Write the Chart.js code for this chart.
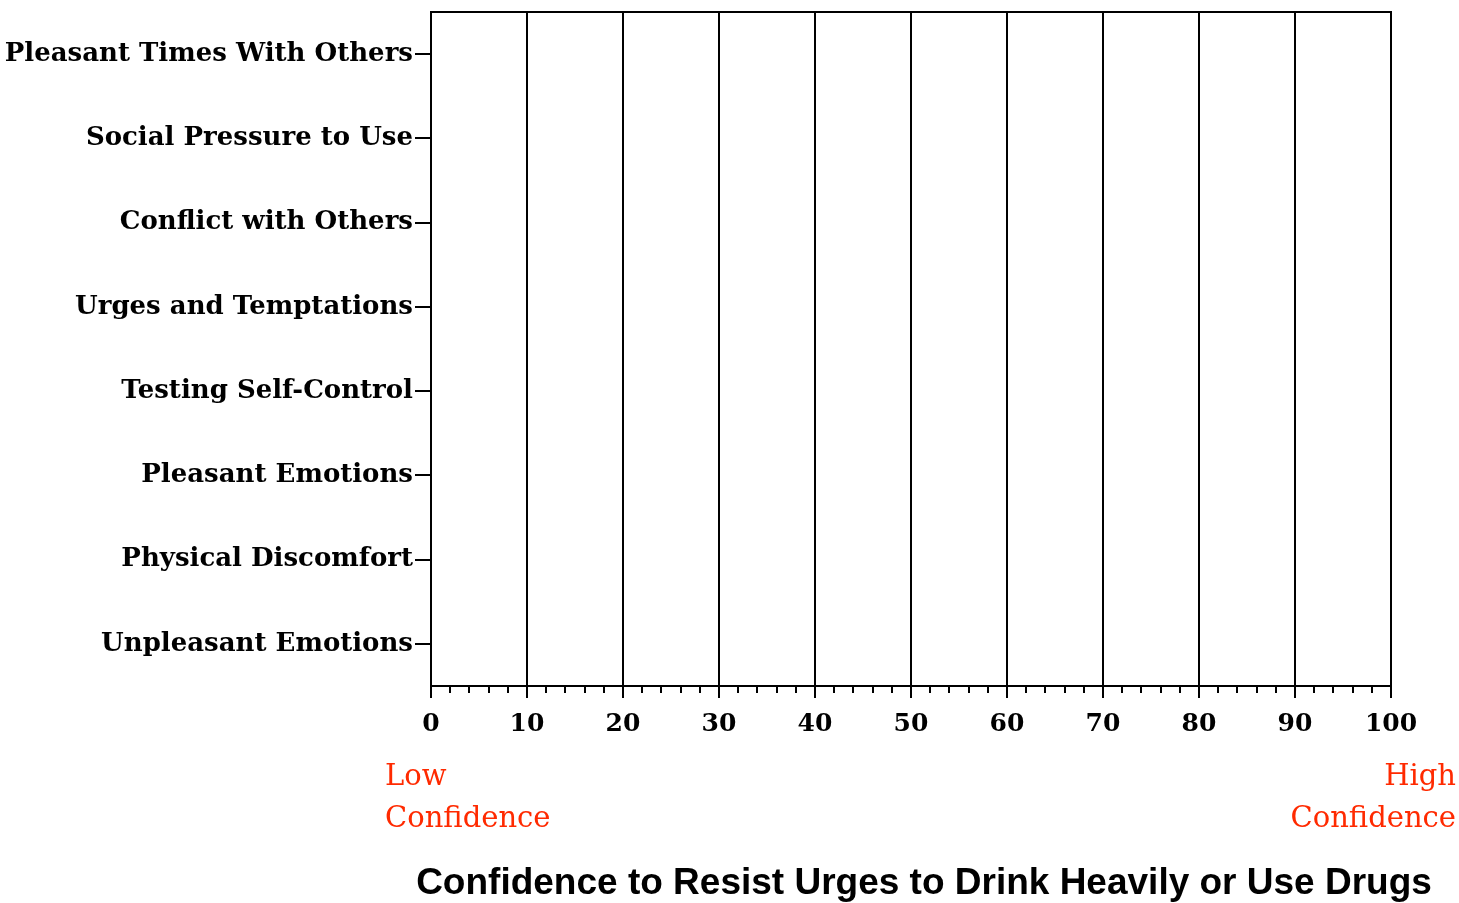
<!DOCTYPE html>
<html>
<head>
<meta charset="utf-8">
<script src="https://cdn.jsdelivr.net/npm/chart.js@4.4.0/dist/chart.umd.min.js"></script>
<style>
  html, body { margin: 0; padding: 0; background: #fff; }
  #wrap { width: 1459px; height: 903px; }
</style>
</head>
<body>
<div id="wrap"><canvas id="barChart"></canvas></div>
<script>
// categories, top to bottom
var categories = ['Pleasant Times With Others', 'Social Pressure to Use', 'Conflict with Others',
    'Urges and Temptations', 'Testing Self-Control', 'Pleasant Emotions',
    'Physical Discomfort', 'Unpleasant Emotions'];
// no bars are filled in on the form
var confidence = [null, null, null, null, null, null, null, null];
var xMin = 0, xMax = 100, majorStep = 10, minorStep = 2;
var lowLabel = ['Low', 'Confidence'];
var highLabel = ['High', 'Confidence'];
var axisTitle = 'Confidence to Resist Urges to Drink Heavily or Use Drugs';

var serif = '"DejaVu Serif", "Liberation Serif", serif';
var red = '#ff2a00';

// minor ticks under the x axis, red end labels, axis title
var extras = {
    id: 'extras',
    afterDraw: function (chart) {
        var ctx = chart.ctx, x = chart.scales.x, area = chart.chartArea;
        ctx.save();
        ctx.strokeStyle = '#000';
        ctx.lineWidth = 2;
        for (var v = xMin; v <= xMax; v += minorStep) {
            if (v % majorStep === 0) continue;
            var px = Math.round(x.getPixelForValue(v));
            ctx.beginPath();
            ctx.moveTo(px, area.bottom);
            ctx.lineTo(px, area.bottom + 7);
            ctx.stroke();
        }
        ctx.fillStyle = red;
        ctx.font = '29px ' + serif;
        ctx.textBaseline = 'middle';
        ctx.textAlign = 'left';
        ctx.fillText(lowLabel[0], area.left - 46, 777);
        ctx.fillText(lowLabel[1], area.left - 46, 819);
        ctx.textAlign = 'right';
        ctx.fillText(highLabel[0], area.right + 65, 777);
        ctx.fillText(highLabel[1], area.right + 65, 819);

        ctx.fillStyle = '#000';
        ctx.font = 'bold 37px "Liberation Sans", Arial, sans-serif';
        ctx.textAlign = 'center';
        ctx.fillText(axisTitle, (area.left + area.right) / 2 + 13, 884);
        ctx.restore();
    }
};

var ctxB = document.getElementById('barChart').getContext('2d');
var barChart = new Chart(ctxB, {
    type: 'bar',
    data: {
        labels: categories,
        datasets: [{
            label: 'Confidence',
            data: confidence,
            backgroundColor: '#888'
        }]
    },
    plugins: [extras],
    options: {
        indexAxis: 'y',
        responsive: true,
        maintainAspectRatio: false,
        animation: false,
        layout: { padding: { top: 12, right: 68, left: 0, bottom: 0 } },
        plugins: {
            legend: { display: false },
            tooltip: { enabled: false }
        },
        scales: {
            x: {
                min: xMin,
                max: xMax,
                afterFit: function (s) { s.height = 217; },
                ticks: {
                    stepSize: majorStep,
                    color: '#000',
                    padding: 11,
                    font: { family: serif, size: 25, weight: 'bold' }
                },
                grid: { color: '#000', lineWidth: 2, tickLength: 12 },
                border: { color: '#000', width: 2 }
            },
            x2: {
                position: 'top',
                min: xMin,
                max: xMax,
                afterFit: function (s) { s.height = 0; },
                ticks: { display: false },
                grid: { display: false },
                border: { color: '#000', width: 2 }
            },
            y: {
                afterFit: function (s) {
                    s.width = 431;
                    s.paddingTop = 0;
                    s.paddingBottom = 0;
                },
                ticks: {
                    color: '#000',
                    padding: 2,
                    font: { family: serif, size: 26, weight: 'bold' }
                },
                grid: { offset: false, drawOnChartArea: false, color: '#000', lineWidth: 2, tickLength: 16 },
                border: { color: '#000', width: 2 }
            }
        }
    }
});
</script>
</body>
</html>
